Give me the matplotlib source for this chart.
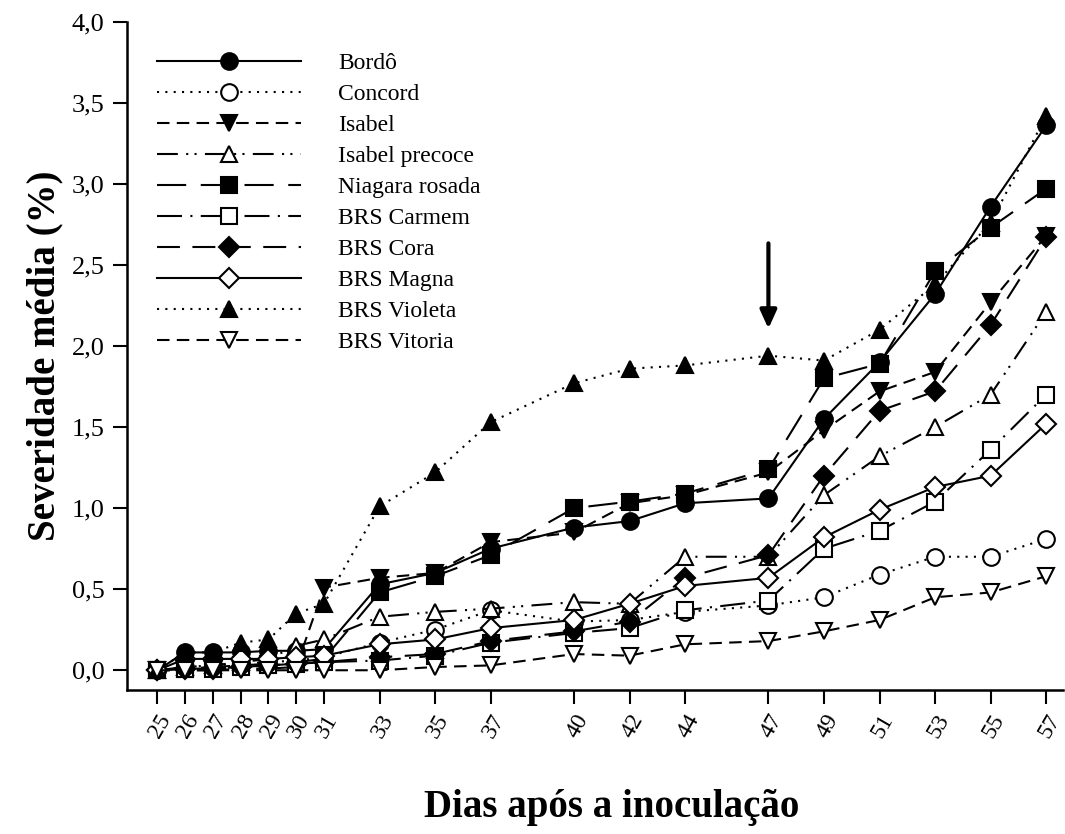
import matplotlib
matplotlib.use("Agg")
import matplotlib.pyplot as plt

# days after inoculation
dias = [25, 26, 27, 28, 29, 30, 31, 33, 35, 37, 40, 42, 44, 47, 49, 51, 53, 55, 57]

# mean severity (%) per cultivar
bordo = [0.00, 0.11, 0.11, 0.11, 0.12, 0.12, 0.13, 0.53, 0.60, 0.75, 0.88, 0.92, 1.03, 1.06, 1.55, 1.90, 2.32, 2.86, 3.36]
concord = [0.00, 0.02, 0.03, 0.04, 0.05, 0.06, 0.08, 0.17, 0.25, 0.37, 0.30, 0.31, 0.36, 0.40, 0.45, 0.59, 0.70, 0.70, 0.81]
isabel = [0.00, 0.00, 0.00, 0.01, 0.01, 0.02, 0.51, 0.57, 0.60, 0.79, 0.85, 1.03, 1.08, 1.22, 1.48, 1.72, 1.84, 2.27, 2.68]
isabel_precoce = [0.00, 0.02, 0.03, 0.05, 0.07, 0.15, 0.19, 0.33, 0.36, 0.38, 0.42, 0.41, 0.70, 0.70, 1.08, 1.32, 1.50, 1.70, 2.21]
niagara = [0.00, 0.01, 0.02, 0.03, 0.04, 0.05, 0.07, 0.48, 0.58, 0.71, 1.00, 1.04, 1.09, 1.24, 1.80, 1.89, 2.46, 2.73, 2.97]
carmem = [0.00, 0.01, 0.01, 0.02, 0.03, 0.04, 0.05, 0.06, 0.09, 0.17, 0.23, 0.26, 0.37, 0.43, 0.75, 0.86, 1.04, 1.36, 1.70]
cora = [0.00, 0.01, 0.01, 0.02, 0.03, 0.04, 0.05, 0.08, 0.10, 0.18, 0.24, 0.30, 0.57, 0.71, 1.20, 1.60, 1.72, 2.13, 2.67]
magna = [0.00, 0.07, 0.07, 0.07, 0.07, 0.08, 0.09, 0.16, 0.19, 0.26, 0.31, 0.41, 0.52, 0.57, 0.82, 0.99, 1.13, 1.20, 1.52]
violeta = [0.00, 0.11, 0.11, 0.17, 0.19, 0.35, 0.41, 1.01, 1.22, 1.53, 1.77, 1.86, 1.88, 1.94, 1.91, 2.10, 2.38, 2.76, 3.42]
vitoria = [0.00, 0.00, 0.00, 0.00, 0.00, 0.00, 0.00, 0.00, 0.02, 0.03, 0.10, 0.09, 0.16, 0.18, 0.24, 0.31, 0.45, 0.48, 0.58]

nomes = ["Bordô", "Concord", "Isabel", "Isabel precoce", "Niagara rosada",
         "BRS Carmem", "BRS Cora", "BRS Magna", "BRS Violeta", "BRS Vitoria"]
series = [bordo, concord, isabel, isabel_precoce, niagara,
          carmem, cora, magna, violeta, vitoria]

# marker, filled?, linestyle
estilos = [
    ("o", True, "-"),
    ("o", False, (0, (1, 3))),
    ("v", True, (0, (6, 3.5))),
    ("^", False, (0, (10, 4, 1, 3, 1, 4))),
    ("s", True, (0, (14, 7))),
    ("s", False, (0, (12, 4, 1, 4))),
    ("D", True, (0, (11, 6))),
    ("D", False, "-"),
    ("^", True, (0, (1, 3))),
    ("v", False, (0, (6, 3.5))),
]

plt.rcParams["font.family"] = ["Liberation Serif", "DejaVu Serif"]

fig = plt.figure(figsize=(10.65, 8.34), dpi=100)
ax = fig.add_axes([0.119, 0.173, 0.879, 0.801])

for nome, y, (mk, cheio, ls) in zip(nomes, series, estilos):
    ms = 10.5 if mk == "D" else 12
    ax.plot(dias, y, linestyle=ls, color="black", linewidth=1.5,
            marker=mk, markersize=ms, markeredgecolor="black",
            markeredgewidth=1.5,
            markerfacecolor="black" if cheio else "white", label=nome)

# arrow marking day 47
ax.annotate("", xy=(47, 2.09), xytext=(47, 2.65),
            arrowprops=dict(arrowstyle="-|>,head_width=0.5,head_length=1.1",
                            color="black", lw=3))

ax.set_xlim(23.9, 57.6)
ax.set_ylim(-0.12, 4.0)
ax.set_xticks(dias)
ax.set_xticklabels([str(d) for d in dias], rotation=60, ha="right",
                   rotation_mode="anchor", fontsize=17)
yt = [0, 0.5, 1.0, 1.5, 2.0, 2.5, 3.0, 3.5, 4.0]
ax.set_yticks(yt)
ax.set_yticklabels([f"{v:.1f}".replace(".", ",") for v in yt], fontsize=19)
ax.tick_params(direction="out", length=10, width=1.5)
ax.tick_params(axis="y", pad=6)
ax.tick_params(axis="x", pad=5)

ax.spines["top"].set_visible(False)
ax.spines["right"].set_visible(False)
ax.spines["left"].set_linewidth(1.8)
ax.spines["bottom"].set_linewidth(1.8)

ax.set_xlabel("Dias após a inoculação", fontsize=28, fontweight="bold")
ax.set_ylabel("Severidade média (%)", fontsize=28, fontweight="bold")
ax.xaxis.set_label_coords(0.518, -0.148)
ax.yaxis.set_label_coords(-0.068, 0.5)

ax.legend(loc="upper left", bbox_to_anchor=(0.01, 0.985), frameon=False,
          fontsize=17, handlelength=6.1, handletextpad=1.55, labelspacing=0.4)

fig.savefig("out.png", dpi=100)
